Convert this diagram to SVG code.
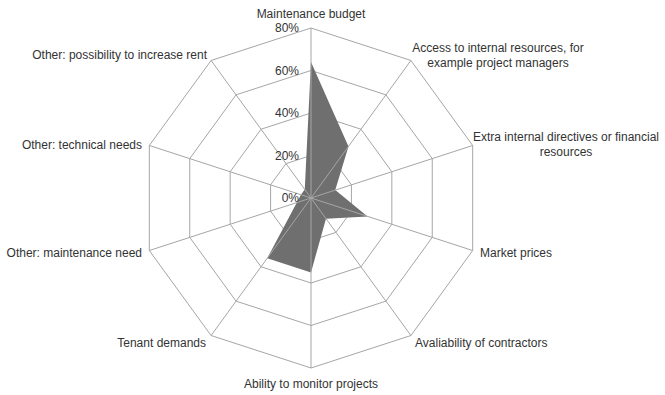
<svg xmlns="http://www.w3.org/2000/svg" width="665" height="395" viewBox="0 0 665 395">
<style>
.grid{fill:none;stroke:#a6a6a6;stroke-width:1}
.lbl{font-family:"Liberation Sans",Arial,sans-serif;font-size:12px;fill:#333}
.tick{font-family:"Liberation Sans",Arial,sans-serif;font-size:12px;fill:#333;text-anchor:end}
</style>
<rect width="665" height="395" fill="#fff"/>
<g id="rings">
<polygon class="grid" points="311,155.5 335.98,163.62 351.42,184.87 351.42,211.13 335.98,232.38 311,240.5 286.02,232.38 270.58,211.13 270.58,184.87 286.02,163.62"/>
<polygon class="grid" points="311,113 360.96,129.23 391.84,171.73 391.84,224.27 360.96,266.77 311,283 261.04,266.77 230.16,224.27 230.16,171.73 261.04,129.23"/>
<polygon class="grid" points="311,70.5 385.94,94.85 432.26,158.6 432.26,237.4 385.94,301.15 311,325.5 236.06,301.15 189.74,237.4 189.74,158.6 236.06,94.85"/>
<polygon class="grid" points="311,28 410.92,60.47 472.68,145.47 472.68,250.53 410.92,335.53 311,368 211.08,335.53 149.32,250.53 149.32,145.47 211.08,60.47"/>
</g>
<g id="series">
<polygon fill="#6f6f6f" stroke="none" points="311,62 348.47,146.43 335.25,190.12 367.59,216.39 325.99,218.63 311,272.38 267.28,258.17 296.85,202.6 300.9,194.72 304.75,189.4"/>
</g>
<g id="connectors">
<path class="grid" d="M311,198L311,28M311,198L410.92,60.47M311,198L472.68,145.47M311,198L472.68,250.53M311,198L410.92,335.53M311,198L311,368M311,198L211.08,335.53M311,198L149.32,250.53M311,198L149.32,145.47M311,198L211.08,60.47"/>
</g>
<g id="ticks">
<text class="tick" x="299" y="32">80%</text>
<text class="tick" x="299" y="75">60%</text>
<text class="tick" x="299" y="117">40%</text>
<text class="tick" x="299" y="160">20%</text>
<text class="tick" x="299" y="202">0%</text>
</g>
<g id="n0"><text class="lbl" x="311" y="18" text-anchor="middle">Maintenance budget</text></g>
<g id="n1"><text class="lbl" x="498" y="52" text-anchor="middle">Access to internal resources, for</text><text class="lbl" x="498" y="67" text-anchor="middle">example project managers</text></g>
<g id="n2"><text class="lbl" x="566" y="141" text-anchor="middle">Extra internal directives or financial</text><text class="lbl" x="566" y="156" text-anchor="middle">resources</text></g>
<g id="n3"><text class="lbl" x="480" y="257">Market prices</text></g>
<g id="n4"><text class="lbl" x="415" y="347">Avaliability of contractors</text></g>
<g id="n5"><text class="lbl" x="311" y="388" text-anchor="middle">Ability to monitor projects</text></g>
<g id="n6"><text class="lbl" x="206" y="347" text-anchor="end">Tenant demands</text></g>
<g id="n7"><text class="lbl" x="142" y="257" text-anchor="end">Other: maintenance need</text></g>
<g id="n8"><text class="lbl" x="142" y="149" text-anchor="end">Other: technical needs</text></g>
<g id="n9"><text class="lbl" x="207" y="59" text-anchor="end">Other: possibility to increase rent</text></g>
</svg>
